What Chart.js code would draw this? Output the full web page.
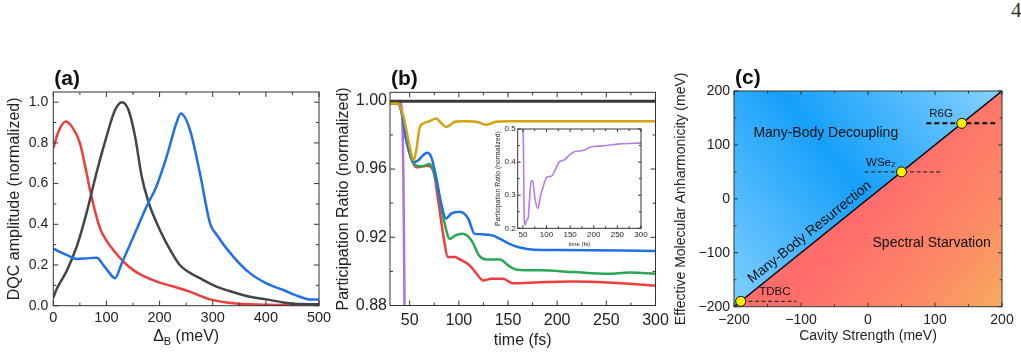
<!DOCTYPE html>
<html>
<head>
<meta charset="utf-8">
<script src="https://cdn.jsdelivr.net/npm/chart.js@4.4.0/dist/chart.umd.min.js"></script>
<style>
  body { margin: 0; background: #fff; width: 1021px; height: 354px; position: relative; overflow: hidden; }
  canvas { position: absolute; }
  #pageNo { position: absolute; left: 1011px; top: -2px; font-family: "Liberation Serif", serif; font-size: 21px; color: #333; }
</style>
</head>
<body>
<div id="pageNo">4</div>
<canvas id="chartA" width="336" height="294" style="left:0;top:60px"></canvas>
<canvas id="chartB" width="347" height="294" style="left:328px;top:60px"></canvas>
<canvas id="chartInset" width="160" height="132" style="left:490px;top:118px"></canvas>
<canvas id="chartC" width="349" height="294" style="left:672px;top:60px"></canvas>
<script>
// ---------- (a) DQC amplitude vs Delta_B ----------
const redDelta = [0, 10, 23, 35, 50, 60, 69, 80, 88, 100, 113, 132, 150, 169, 195, 226, 257, 289, 326, 370, 430, 500];
const redDQC = [0.775, 0.857, 0.905, 0.88, 0.80, 0.685, 0.57, 0.45, 0.38, 0.32, 0.274, 0.217, 0.176, 0.146, 0.118, 0.094, 0.069, 0.036, 0.016, 0.007, 0.004, 0.004];
const blackDelta = [0, 6, 25, 44, 63, 82, 100, 116, 129, 141, 154, 166, 179, 201, 220, 238, 251, 276, 307, 339, 370, 401, 433, 464, 500];
const blackDQC = [0.04, 0.08, 0.17, 0.29, 0.46, 0.66, 0.83, 0.96, 1.0, 0.965, 0.83, 0.64, 0.51, 0.37, 0.274, 0.2, 0.172, 0.135, 0.094, 0.066, 0.044, 0.031, 0.016, 0.008, 0.007];
const blueDelta = [0, 25, 44, 60, 82, 94, 106, 116, 129, 151, 176, 194, 213, 232, 240, 257, 276, 295, 307, 339, 370, 401, 433, 464, 483, 500];
const blueDQC = [0.28, 0.25, 0.23, 0.232, 0.236, 0.2, 0.16, 0.135, 0.21, 0.34, 0.49, 0.586, 0.73, 0.9, 0.944, 0.865, 0.65, 0.405, 0.35, 0.24, 0.16, 0.11, 0.077, 0.044, 0.031, 0.031];

// ---------- (b) participation ratio vs time ----------
const blackT = [30, 300];
const blackPR = [0.9998, 0.9998];
const purpleT = [30, 40, 42, 43.5, 44.5, 45.5];
const purplePR = [0.9995, 0.9995, 0.995, 0.96, 0.9, 0.8];
const goldT = [30, 38, 44, 50, 54, 57, 60, 65, 70, 77, 82, 87, 92, 96, 102, 108, 118, 124, 128, 133, 138, 150, 200, 300];
const goldPR = [0.9985, 0.9985, 0.99, 0.973, 0.965, 0.972, 0.984, 0.987, 0.988, 0.9896, 0.987, 0.9847, 0.9862, 0.9877, 0.988, 0.988, 0.9877, 0.9865, 0.986, 0.9868, 0.9877, 0.988, 0.988, 0.988];
const blueT = [30, 38, 42, 46.6, 51.7, 54, 58.5, 63.6, 67.7, 72, 77, 82, 87, 92.5, 101, 109.5, 116, 125, 135, 142, 152, 162, 176, 200, 300];
const bluePR = [0.9985, 0.9985, 0.993, 0.977, 0.967, 0.964, 0.965, 0.968, 0.9695, 0.967, 0.955, 0.94, 0.931, 0.934, 0.935, 0.931, 0.922, 0.9217, 0.921, 0.919, 0.916, 0.914, 0.9127, 0.9125, 0.912];
const greenT = [30, 38, 42, 46.6, 51.7, 56.8, 63.6, 70, 77, 84, 91, 96, 104, 113, 121, 128, 142, 150, 159, 183, 217, 251, 274, 300];
const greenPR = [0.9985, 0.9985, 0.993, 0.977, 0.966, 0.962, 0.9616, 0.963, 0.953, 0.932, 0.919, 0.921, 0.922, 0.918, 0.909, 0.907, 0.907, 0.9035, 0.901, 0.9006, 0.8996, 0.8986, 0.8993, 0.8986];
const redT = [30, 38, 42, 46.6, 51.7, 56.8, 67, 74, 79, 84, 89, 96, 101, 111, 118, 125, 133, 145, 155, 183, 217, 251, 300];
const redPR = [0.9985, 0.9985, 0.993, 0.977, 0.966, 0.961, 0.962, 0.959, 0.9417, 0.922, 0.9084, 0.9084, 0.907, 0.9035, 0.8986, 0.8947, 0.8957, 0.8957, 0.893, 0.8937, 0.894, 0.8935, 0.8917];
// inset: purple trace, full range
const insetT = [50, 51.5, 53, 55, 58, 61, 64, 67.5, 71, 76, 82, 87, 94, 101, 110, 117, 126, 138, 149, 160, 177, 192, 220, 255, 300];
const insetPR = [0.6, 0.4, 0.22, 0.21, 0.225, 0.23, 0.286, 0.344, 0.341, 0.286, 0.26, 0.296, 0.331, 0.355, 0.357, 0.372, 0.399, 0.407, 0.422, 0.432, 0.435, 0.445, 0.449, 0.455, 0.458];

// ---------- (c) phase diagram ----------
const boundaryStrength = [-200, 200];
const boundaryAnharm = [-200, 200];
const materialNames = ["TDBC", "WSe\u2082", "R6G"];
const materialStrength = [-190, 50, 140];
const materialAnharm = [-190, 50, 140];
const dashFrom = [-188, -5, 87];
const dashTo = [-107, 110, 190];

const pts = (xs, ys) => xs.map((x, i) => ({ x: x, y: ys[i] }));
const FONT = '"Liberation Sans", Arial, sans-serif';
Chart.defaults.font.family = FONT;
Chart.defaults.color = "#222";
Chart.defaults.animation = false;
Chart.defaults.devicePixelRatio = 1;

// box around plot area with inward major/minor ticks on all sides + panel letter
const frameTicks = {
  id: "frameTicks",
  afterDatasetsDraw(chart, args, opts) {
    const { ctx, chartArea: a, scales } = chart;
    ctx.save();
    ctx.strokeStyle = "#333";
    ctx.lineWidth = 1;
    ctx.strokeRect(a.left, a.top, a.width, a.height);
    const values = (scale, step) => {
      const out = [];
      const start = Math.ceil(scale.min / step - 1e-6);
      for (let i = start; i * step <= scale.max + step * 1e-6; i++) out.push(i * step);
      return out;
    };
    const isMajor = (scale, v, step) => scale.ticks.some((t) => Math.abs(t.value - v) < step * 1e-3);
    const seg = (x1, y1, x2, y2) => { ctx.beginPath(); ctx.moveTo(x1, y1); ctx.lineTo(x2, y2); ctx.stroke(); };
    values(scales.x, opts.xMinor).forEach((v) => {
      const p = scales.x.getPixelForValue(v);
      const len = isMajor(scales.x, v, opts.xMinor) ? opts.major : opts.minor;
      seg(p, a.bottom, p, a.bottom - len);
      seg(p, a.top, p, a.top + len);
    });
    values(scales.y, opts.yMinor).forEach((v) => {
      const p = scales.y.getPixelForValue(v);
      const len = isMajor(scales.y, v, opts.yMinor) ? opts.major : opts.minor;
      seg(a.left, p, a.left + len, p);
      seg(a.right, p, a.right - len, p);
    });
    if (opts.label) {
      ctx.fillStyle = "#111";
      ctx.font = "bold 21px " + FONT;
      ctx.textAlign = "left";
      ctx.textBaseline = "alphabetic";
      ctx.fillText(opts.label, a.left + 1, a.top - 7);
    }
    if (opts.subTitle) {
      // axis title with a subscript, e.g. Delta_B (meV)
      const [main, sub, rest] = opts.subTitle;
      const big = "16px " + FONT, small = "11px " + FONT;
      ctx.font = big; const w1 = ctx.measureText(main).width, w3 = ctx.measureText(rest).width;
      ctx.font = small; const w2 = ctx.measureText(sub).width;
      let x0 = (a.left + a.right) / 2 - (w1 + w2 + w3) / 2;
      const yb = a.bottom + 35;
      ctx.fillStyle = "#222";
      ctx.font = big; ctx.fillText(main, x0, yb);
      ctx.font = small; ctx.fillText(sub, x0 + w1, yb + 4);
      ctx.font = big; ctx.fillText(rest, x0 + w1 + w2, yb);
    }
    ctx.restore();
  }
};

// free text placed in data coordinates (panel c)
const phaseText = {
  id: "phaseText",
  afterDatasetsDraw(chart, args, opts) {
    const { ctx, scales: { x, y } } = chart;
    const diagAngle = Math.atan2(y.getPixelForValue(y.max) - y.getPixelForValue(y.min),
                                 x.getPixelForValue(x.max) - x.getPixelForValue(x.min));
    opts.items.forEach((it) => {
      ctx.save();
      ctx.translate(x.getPixelForValue(it.x), y.getPixelForValue(it.y));
      if (it.rotate) ctx.rotate(diagAngle);
      ctx.font = it.size + "px " + FONT;
      ctx.fillStyle = "#111";
      ctx.textAlign = "center";
      ctx.textBaseline = "middle";
      ctx.fillText(it.text, 0, 0);
      ctx.restore();
    });
  }
};

const fixedWidth = (w) => (s) => { s.width = w; };
const fixedHeight = (h) => (s) => { s.height = h; };
const noGrid = { display: false, drawTicks: false };

// ---------- chart (a) ----------
new Chart(document.getElementById("chartA"), {
  type: "line",
  data: {
    datasets: [
      { data: pts(blueDelta, blueDQC), borderColor: "#1f6fe6" },
      { data: pts(blackDelta, blackDQC), borderColor: "#454545" },
      { data: pts(redDelta, redDQC), borderColor: "#f03c3c" }
    ]
  },
  plugins: [frameTicks],
  options: {
    responsive: false,
    layout: { padding: { top: 32, right: 17, left: 0, bottom: 0 } },
    elements: { point: { radius: 0 }, line: { borderWidth: 2.5, cubicInterpolationMode: "monotone" } },
    plugins: {
      legend: { display: false }, tooltip: { enabled: false },
      frameTicks: { xMinor: 50, yMinor: 0.1, major: 5, minor: 3, label: "(a)", subTitle: ["\u0394", "B", " (meV)"] }
    },
    scales: {
      x: {
        type: "linear", min: 0, max: 500, afterFit: fixedHeight(48.3),
        grid: noGrid, border: { display: false },
        ticks: { stepSize: 100, includeBounds: false, padding: 4, font: { size: 14.5 } }
      },
      y: {
        min: 0, max: 1.05, afterFit: fixedWidth(53.3),
        grid: noGrid, border: { display: false },
        ticks: { stepSize: 0.2, includeBounds: false, padding: 5, font: { size: 14 }, callback: (v) => v.toFixed(1) },
        title: { display: true, text: "DQC amplitude (normalized)", font: { size: 16 }, padding: { top: 5.4 } }
      }
    }
  }
});

// ---------- chart (b) ----------
new Chart(document.getElementById("chartB"), {
  type: "line",
  data: {
    datasets: [
      { data: pts(goldT, goldPR), borderColor: "#d4a20a" },
      { data: pts(blackT, blackPR), borderColor: "#3a3a3a", borderWidth: 3 },
      { data: pts(blueT, bluePR), borderColor: "#1f6fe6" },
      { data: pts(greenT, greenPR), borderColor: "#2aa655" },
      { data: pts(redT, redPR), borderColor: "#f03c3c" },
      { data: pts(purpleT, purplePR), borderColor: "#b06ee0" }
    ]
  },
  plugins: [frameTicks],
  options: {
    responsive: false,
    layout: { padding: { top: 32.3, right: 19.5, left: 0, bottom: 0 } },
    elements: { point: { radius: 0 }, line: { borderWidth: 2.5, cubicInterpolationMode: "monotone" } },
    plugins: {
      legend: { display: false }, tooltip: { enabled: false },
      frameTicks: { xMinor: 25, yMinor: 0.02, major: 5, minor: 3, label: "(b)" }
    },
    scales: {
      x: {
        type: "linear", min: 30, max: 300, afterFit: fixedHeight(48.5),
        grid: noGrid, border: { display: false },
        ticks: { stepSize: 50, includeBounds: false, padding: 5, font: { size: 16 } },
        title: { display: true, text: "time (fs)", font: { size: 16 }, padding: { bottom: 4 } }
      },
      y: {
        min: 0.88, max: 1.005, afterFit: fixedWidth(62),
        grid: noGrid, border: { display: false },
        ticks: { stepSize: 0.04, includeBounds: false, padding: 3, font: { size: 16 }, callback: (v) => v.toFixed(2) },
        title: { display: true, text: "Participation Ratio (normalized)", font: { size: 16 }, padding: { top: 6.4 } }
      }
    }
  }
});

// ---------- inset of (b) ----------
new Chart(document.getElementById("chartInset"), {
  type: "line",
  data: { datasets: [{ data: pts(insetT, insetPR), borderColor: "#b57ee6", borderWidth: 1.6 }] },
  plugins: [frameTicks],
  options: {
    responsive: false,
    layout: { padding: { top: 11, right: 9, left: 0, bottom: 0 } },
    elements: { point: { radius: 0 }, line: { cubicInterpolationMode: "monotone" } },
    plugins: {
      legend: { display: false }, tooltip: { enabled: false },
      frameTicks: { xMinor: 25, yMinor: 0.05, major: 3, minor: 2 }
    },
    scales: {
      x: {
        type: "linear", min: 39, max: 300, afterFit: fixedHeight(21.7),
        grid: noGrid, border: { display: false },
        ticks: { stepSize: 50, includeBounds: false, padding: 2, font: { size: 8 } },
        title: { display: true, text: "time (fs)", font: { size: 6 }, padding: { bottom: 2.3 } }
      },
      y: {
        min: 0.2, max: 0.5, afterFit: fixedWidth(27.7),
        grid: noGrid, border: { display: false },
        ticks: { stepSize: 0.1, includeBounds: false, padding: 2, font: { size: 8 }, callback: (v) => v.toFixed(1) },
        title: { display: true, text: "Participation Ratio (normalized)", font: { size: 6.8 }, padding: { top: 3.9 } }
      }
    }
  }
});

// ---------- chart (c) ----------
const blueGrad = (chart) => {
  const { chartArea, scales: { x, y } } = chart;
  if (!chartArea) return "rgba(0,0,0,0)";
  const g = chart.ctx.createLinearGradient(x.getPixelForValue(-200), y.getPixelForValue(-200), x.getPixelForValue(200), y.getPixelForValue(200));
  g.addColorStop(0, "rgb(128,206,255)");
  g.addColorStop(0.5, "rgb(22,160,250)");
  g.addColorStop(1, "rgb(135,210,255)");
  return g;
};
const redGrad = (chart) => {
  const { chartArea, scales: { x, y } } = chart;
  if (!chartArea) return "rgba(0,0,0,0)";
  const g = chart.ctx.createLinearGradient(x.getPixelForValue(0), y.getPixelForValue(0), x.getPixelForValue(200), y.getPixelForValue(-200));
  g.addColorStop(0, "rgb(255,108,108)");
  g.addColorStop(0.55, "rgb(253,135,102)");
  g.addColorStop(1, "rgb(246,170,94)");
  return g;
};

const materialLines = materialNames.map((name, i) => ({
  label: name,
  data: [{ x: dashFrom[i], y: materialAnharm[i] }, { x: dashTo[i], y: materialAnharm[i] }],
  borderColor: i === 2 ? "#000" : "#333",
  borderWidth: i === 2 ? 2 : 1.2,
  borderDash: i === 2 ? [5, 3] : [4, 2.5]
}));

new Chart(document.getElementById("chartC"), {
  type: "line",
  data: {
    datasets: [
      { label: "materials", data: pts(materialStrength, materialAnharm), showLine: false,
        pointRadius: 5, pointBackgroundColor: "#ffef00", pointBorderColor: "#111", pointBorderWidth: 1 },
      ...materialLines,
      { label: "boundary", data: pts(boundaryStrength, boundaryAnharm), borderColor: "#111", borderWidth: 1.5 },
      { label: "decoupling", data: pts(boundaryStrength, boundaryAnharm), borderWidth: 0, fill: "end",
        backgroundColor: (ctx) => blueGrad(ctx.chart) },
      { label: "starvation", data: pts(boundaryStrength, boundaryAnharm), borderWidth: 0, fill: "start",
        backgroundColor: (ctx) => redGrad(ctx.chart) }
    ]
  },
  plugins: [frameTicks, phaseText],
  options: {
    responsive: false,
    layout: { padding: { top: 31, right: 19, left: 0, bottom: 0 } },
    elements: { point: { radius: 0 }, line: { tension: 0 } },
    plugins: {
      legend: { display: false }, tooltip: { enabled: false }, filler: { propagate: false },
      frameTicks: { xMinor: 50, yMinor: 50, major: 4, minor: 2.5, label: "(c)" },
      phaseText: {
        items: [
          { text: "Many-Body Decoupling", x: -63, y: 122, size: 14 },
          { text: "Spectral Starvation", x: 95, y: -82, size: 14 },
          { text: "Many-Body Resurrection", x: -87, y: -62, size: 14, rotate: true },
          { text: materialNames[0], x: -139, y: -173, size: 11.5 },
          { text: materialNames[1], x: 19, y: 66, size: 11.5 },
          { text: materialNames[2], x: 109, y: 157, size: 11.5 }
        ]
      }
    },
    scales: {
      x: {
        type: "linear", min: -200, max: 200, afterFit: fixedHeight(47.3),
        grid: noGrid, border: { display: false },
        ticks: { stepSize: 100, includeBounds: false, padding: 5, font: { size: 14 }, callback: (v) => String(v).replace("-", "\u2212") },
        title: { display: true, text: "Cavity Strength (meV)", font: { size: 14 }, padding: { bottom: 9.6 } }
      },
      y: {
        min: -200, max: 200, afterFit: fixedWidth(62),
        grid: noGrid, border: { display: false },
        ticks: { stepSize: 100, includeBounds: false, padding: 4, font: { size: 14 }, callback: (v) => String(v).replace("-", "\u2212") },
        title: { display: true, text: "Effective Molecular Anharmonicity (meV)", font: { size: 14 }, padding: { top: 0.6 } }
      }
    }
  }
});
</script>
</body>
</html>
